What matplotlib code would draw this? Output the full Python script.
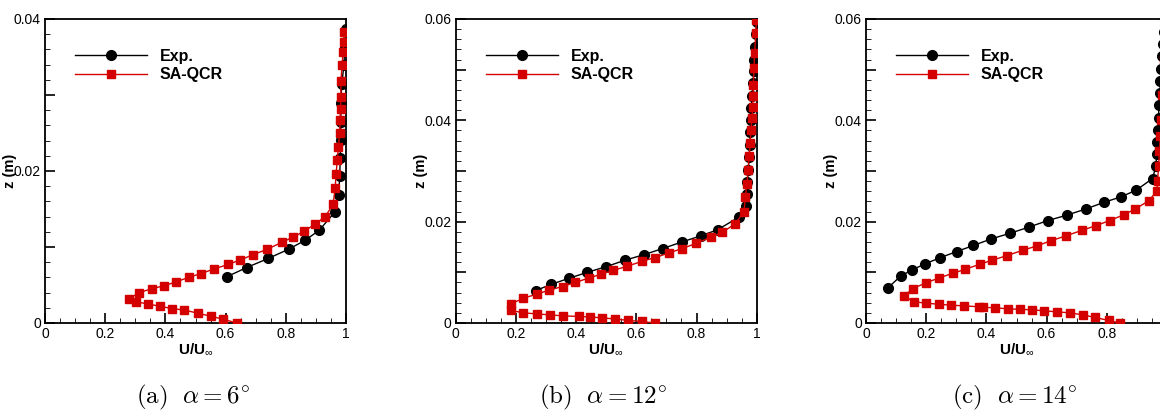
import numpy as np
import matplotlib
matplotlib.use("Agg")
import matplotlib.pyplot as plt
from matplotlib.ticker import FixedLocator, MultipleLocator, FuncFormatter

plt.rcParams['font.family'] = ['Liberation Sans', 'DejaVu Sans']
plt.rcParams['mathtext.fontset'] = 'custom'
plt.rcParams['mathtext.rm'] = 'Liberation Sans'
plt.rcParams['mathtext.bf'] = 'Liberation Sans:bold'

# ---- data ----
# (a) alpha = 6 deg
exp_u_a = [0.605, 0.670, 0.742, 0.809, 0.865, 0.911, 0.963, 0.976, 0.979, 0.981,
           0.982, 0.983, 0.983, 0.986, 0.993, 0.996, 1.0]
exp_z_a = [0.0061, 0.0073, 0.0085, 0.0097, 0.0109, 0.0122, 0.0146, 0.0169, 0.0193, 0.0217,
           0.0241, 0.0265, 0.0290, 0.0314, 0.0339, 0.0363, 0.0387]
sa_u_a = [0.637, 0.592, 0.550, 0.507, 0.463, 0.422, 0.382, 0.342, 0.302, 0.280,
          0.313, 0.354, 0.395, 0.435, 0.477, 0.518, 0.561, 0.608, 0.649, 0.692,
          0.738, 0.786, 0.825, 0.862, 0.897, 0.931, 0.957, 0.964, 0.967, 0.971,
          0.975, 0.979, 0.980, 0.982, 0.983, 0.983, 0.987, 0.990, 0.993, 0.993]
sa_z_a = [0.0, 0.0005, 0.0009, 0.0013, 0.0017, 0.0019, 0.0022, 0.0025, 0.0028, 0.0032,
          0.0040, 0.0045, 0.0049, 0.0054, 0.0060, 0.0065, 0.0071, 0.0077, 0.0083, 0.0090,
          0.0097, 0.0106, 0.0113, 0.0121, 0.0130, 0.0140, 0.0156, 0.0177, 0.0196, 0.0214,
          0.0232, 0.0250, 0.0267, 0.0282, 0.0298, 0.0318, 0.0339, 0.0356, 0.0370, 0.0383]

# (b) alpha = 12 deg
exp_u_b = [0.266, 0.316, 0.375, 0.437, 0.499, 0.563, 0.626, 0.688, 0.752, 0.814,
           0.870, 0.941, 0.963, 0.967, 0.969, 0.972, 0.975, 0.977, 0.979, 0.980,
           0.982, 0.984, 0.988, 0.990, 0.992, 0.996, 0.998, 1.0]
exp_z_b = [0.0064, 0.0076, 0.0088, 0.0100, 0.0111, 0.0124, 0.0135, 0.0147, 0.0160, 0.0172,
           0.0184, 0.0209, 0.0231, 0.0255, 0.0278, 0.0302, 0.0327, 0.0352, 0.0376, 0.0400,
           0.0425, 0.0449, 0.0473, 0.0497, 0.0520, 0.0545, 0.0570, 0.0594]
sa_u_b = [0.662, 0.618, 0.574, 0.530, 0.487, 0.446, 0.408, 0.358, 0.313, 0.269,
          0.225, 0.183, 0.185, 0.225, 0.270, 0.311, 0.355, 0.398, 0.443, 0.482,
          0.524, 0.570, 0.620, 0.662, 0.707, 0.753, 0.798, 0.847, 0.886, 0.929,
          0.958, 0.962, 0.968, 0.971, 0.975, 0.978, 0.981, 0.984, 0.987, 0.988,
          0.989, 0.991, 0.993, 0.997, 0.999]
sa_z_b = [0.0, 0.0003, 0.0005, 0.0008, 0.0010, 0.0012, 0.0013, 0.0014, 0.0016, 0.0018,
          0.0020, 0.0025, 0.0038, 0.0049, 0.0057, 0.0065, 0.0072, 0.0080, 0.0089, 0.0096,
          0.0104, 0.0112, 0.0122, 0.0129, 0.0138, 0.0147, 0.0157, 0.0169, 0.0179, 0.0196,
          0.0220, 0.0248, 0.0275, 0.0302, 0.0329, 0.0355, 0.0381, 0.0404, 0.0427, 0.0448,
          0.0470, 0.0503, 0.0532, 0.0572, 0.0598]

# (c) alpha = 14 deg
exp_u_c = [0.072, 0.116, 0.154, 0.197, 0.247, 0.301, 0.357, 0.416, 0.478, 0.540,
           0.603, 0.668, 0.730, 0.790, 0.847, 0.897, 0.952, 0.963, 0.966, 0.967,
           0.970, 0.972, 0.973, 0.976, 0.978, 0.980, 0.982, 0.986, 0.990, 0.995]
exp_z_c = [0.0069, 0.0093, 0.0105, 0.0117, 0.0129, 0.0141, 0.0153, 0.0166, 0.0177, 0.0189,
           0.0202, 0.0213, 0.0225, 0.0238, 0.0249, 0.0262, 0.0285, 0.0309, 0.0333, 0.0357,
           0.0381, 0.0405, 0.0430, 0.0453, 0.0478, 0.0501, 0.0526, 0.0550, 0.0574, 0.0598]
sa_u_c = [0.844, 0.806, 0.761, 0.720, 0.678, 0.634, 0.593, 0.552, 0.511, 0.471,
          0.430, 0.388, 0.374, 0.324, 0.284, 0.244, 0.200, 0.160, 0.126, 0.156,
          0.198, 0.243, 0.288, 0.330, 0.378, 0.420, 0.468, 0.523, 0.567, 0.613,
          0.664, 0.718, 0.763, 0.809, 0.858, 0.894, 0.939, 0.966, 0.969, 0.972,
          0.975, 0.978, 0.981, 0.985, 0.990, 0.995]
sa_z_c = [0.0, 0.0005, 0.0011, 0.0016, 0.0020, 0.0022, 0.0024, 0.0026, 0.0027, 0.0028,
          0.0030, 0.0031, 0.0032, 0.0034, 0.0035, 0.0037, 0.0039, 0.0042, 0.0053, 0.0068,
          0.0079, 0.0089, 0.0098, 0.0106, 0.0116, 0.0124, 0.0133, 0.0144, 0.0152, 0.0162,
          0.0172, 0.0183, 0.0192, 0.0202, 0.0214, 0.0225, 0.0241, 0.0260, 0.0281, 0.0310,
          0.0340, 0.0370, 0.0400, 0.0450, 0.0520, 0.0590]

panels = [
    (exp_u_a, exp_z_a, sa_u_a, sa_z_a, 0.04, r'$\mathrm{(a)}\ \ \alpha = 6^{\circ}$'),
    (exp_u_b, exp_z_b, sa_u_b, sa_z_b, 0.06, r'$\mathrm{(b)}\ \ \alpha = 12^{\circ}$'),
    (exp_u_c, exp_z_c, sa_u_c, sa_z_c, 0.06, r'$\mathrm{(c)}\ \ \alpha = 14^{\circ}$'),
]
lefts = [45, 455.7, 866]
caption_x = [193, 603, 1015]

W, H = 1160, 412
fig = plt.figure(figsize=(W / 100, H / 100), dpi=100)
red = '#d40000'


def ytick_fmt(v, pos):
    k = int(round(v / 0.01))
    if k == 0:
        return '0'
    if k % 2 == 1:
        return ''
    return '%.2f' % v


def xtick_fmt(v, pos):
    if abs(v) < 1e-9:
        return '0'
    if abs(v - 1) < 1e-9:
        return '1'
    return '%.1f' % v


for i, (eu, ez, su, sz, zmax, cap) in enumerate(panels):
    ax = fig.add_axes([lefts[i] / W, (H - 323) / H, 301 / W, 304 / H])
    ax.plot(eu, ez, '-o', color='black', lw=1.0, ms=7.0, label='Exp.', zorder=3)
    ax.plot(su, sz, '-s', color=red, mec=red, lw=1.0, ms=5.2, label='SA-QCR', zorder=4)
    ax.set_xlim(0, 1)
    ax.set_ylim(0, zmax)

    ax.xaxis.set_major_locator(MultipleLocator(0.2))
    ax.xaxis.set_minor_locator(MultipleLocator(0.05))
    ax.yaxis.set_major_locator(FixedLocator(np.arange(0, zmax + 1e-9, 0.01)))
    ax.yaxis.set_minor_locator(MultipleLocator(0.002))
    ax.xaxis.set_major_formatter(FuncFormatter(xtick_fmt))
    ax.yaxis.set_major_formatter(FuncFormatter(ytick_fmt))
    ax.tick_params(which='both', direction='in', top=False, right=False,
                   labelsize=10, colors='black')
    ax.tick_params(which='major', length=7, width=1.2, pad=3)
    ax.tick_params(which='minor', length=3.5, width=0.6)
    for s in ax.spines.values():
        s.set_linewidth(1.3)
    if i == 2:
        # the last panel runs past the right edge of the page
        for lab in ax.get_xticklabels():
            if lab.get_text() == '1':
                lab.set_visible(False)

    ax.set_xlabel(r'$\mathbf{U/U}_{\infty}$', fontsize=11, labelpad=0)
    ax.set_ylabel('z (m)', fontsize=10.5, fontweight='bold')
    ax.yaxis.set_label_coords(-28 / 301, 0.5)

    ax.legend(loc='center left', bbox_to_anchor=(0.1, 0.847), frameon=False,
              prop={'weight': 'bold', 'size': 11.5}, handlelength=4.5,
              handletextpad=0.8, labelspacing=0.22, borderpad=0, borderaxespad=0)

    fig.text(caption_x[i] / W, (H - 397) / H, cap, ha='center', va='center',
             fontsize=18, math_fontfamily='cm')

fig.savefig('out.png', dpi=100)
